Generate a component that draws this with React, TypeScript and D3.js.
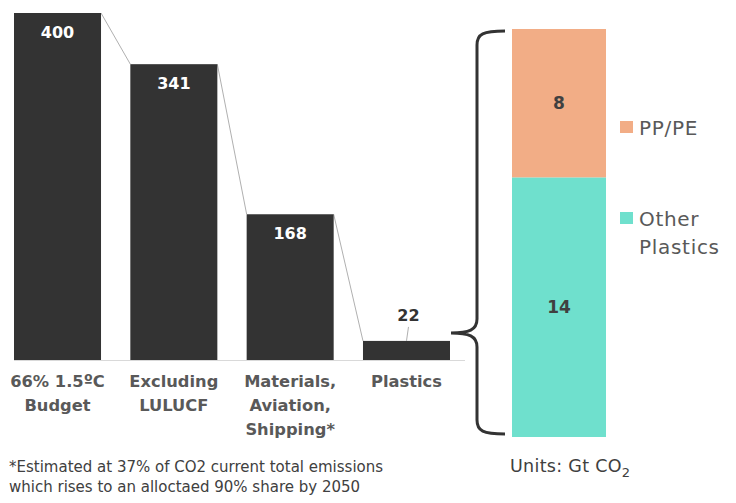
import React from "react";
import * as d3 from "d3";

const categories = ["66% 1.5ºC|Budget", "Excluding|LULUCF", "Materials,|Aviation,|Shipping*", "Plastics"];
const values = [400, 341, 168, 22];
const stackKeys = ["Other Plastics", "PP/PE"];
const stackValues = [{ "Other Plastics": 14, "PP/PE": 8 }];
const legendLabels = ["PP/PE", "Other|Plastics"];
const footnote = ["*Estimated at 37% of CO2 current total emissions", "which rises to an alloctaed 90% share by 2050"];

const FONT = "'DejaVu Sans', sans-serif";

export default function App() {
  const W = 736, H = 503;
  const x = d3.scaleBand<string>().domain(categories).range([14, 450]).paddingInner(0.252).paddingOuter(0);
  const y = d3.scaleLinear().domain([0, 400]).range([360, 13]);
  const stackColors: Record<string, string> = { "Other Plastics": "#6FE0CD", "PP/PE": "#F2AD86" };
  const series = d3.stack<any>().keys(stackKeys)(stackValues as any);
  const y2 = d3.scaleLinear().domain([0, 22]).range([437, 29]);
  const bx0 = 512, bx1 = 606;

  const bw = x.bandwidth();
  const connectors = values.slice(0, -1).map((v, i) => ({
    x1: (x(categories[i]) as number) + bw,
    y1: y(v),
    x2: x(categories[i + 1]) as number,
    y2: y(values[i + 1]),
  }));

  const top = y2(22) + 2, bot = y2(0) - 3;
  const tipY = y(values[3]) - 8;
  const vx = 477, rx = 505, tx = 451;
  const brace = `M ${rx} ${top} C ${vx + 6} ${top} ${vx} ${top + 3} ${vx} ${top + 14}
    L ${vx} ${tipY - 14} C ${vx} ${tipY - 3} ${vx - 8} ${tipY} ${tx} ${tipY}
    C ${vx - 8} ${tipY} ${vx} ${tipY + 3} ${vx} ${tipY + 14}
    L ${vx} ${bot - 14} C ${vx} ${bot - 3} ${vx + 6} ${bot} ${rx} ${bot}`;

  return (
    <svg width={W} height={H} style={{ position: "absolute", left: 0, top: 0, background: "#fff" }} fontFamily={FONT}>
      <line x1={14} x2={465} y1={360.5} y2={360.5} stroke="#d9d9d9" strokeWidth={1} />
      {connectors.map((c, i) => (
        <line key={i} x1={c.x1} y1={c.y1} x2={c.x2} y2={c.y2} stroke="#b0b0b0" strokeWidth={1} />
      ))}
      {categories.map((c, i) => {
        const bx = x(c) as number;
        return (
          <g key={c}>
            <rect x={bx} y={y(values[i])} width={bw} height={y(0) - y(values[i])} fill="#333333" />
            {i < 3 ? (
              <text x={bx + bw / 2} y={y(values[i]) + 25} textAnchor="middle" fill="#ffffff" fontWeight="bold" fontSize={16}>
                {values[i]}
              </text>
            ) : (
              <g>
                <line x1={bx + bw / 2 + 2} y1={y(values[i]) - 14} x2={bx + bw / 2} y2={y(values[i])} stroke="#b0b0b0" />
                <text x={bx + bw / 2 + 2} y={y(values[i]) - 20} textAnchor="middle" fill="#333" fontWeight="bold" fontSize={16}>
                  {values[i]}
                </text>
              </g>
            )}
            {c.split("|").map((line, j) => (
              <text key={j} x={bx + bw / 2} y={387 + j * 24} textAnchor="middle" fill="#595959" fontWeight="bold" fontSize={16.3}>
                {line}
              </text>
            ))}
          </g>
        );
      })}
      {series.map((s) => (
        <g key={s.key}>
          <rect x={bx0} y={y2(s[0][1])} width={bx1 - bx0} height={y2(s[0][0]) - y2(s[0][1])} fill={stackColors[s.key]} />
          <text x={(bx0 + bx1) / 2} y={(y2(s[0][0]) + y2(s[0][1])) / 2 + 6} textAnchor="middle" fill="#404040" fontWeight="bold" fontSize={17}>
            {s[0][1] - s[0][0]}
          </text>
        </g>
      ))}
      <path d={brace} fill="none" stroke="#333" strokeWidth={3} />
      {legendLabels.map((l, i) => {
        const key = i === 0 ? "PP/PE" : "Other Plastics";
        const ly = i === 0 ? 121 : 212;
        return (
          <g key={l}>
            <rect x={620} y={ly} width={13} height={12} fill={stackColors[key]} />
            {l.split("|").map((t, j) => (
              <text key={j} x={639} y={ly + 14 + j * 28} fill="#595959" fontSize={20} letterSpacing={0.7}>
                {t}
              </text>
            ))}
          </g>
        );
      })}
      <text x={510} y={472} fill="#404040" fontSize={17.5} letterSpacing={0.3}>
        Units: Gt CO<tspan dy={5} fontSize={13}>2</tspan>
      </text>
      {footnote.map((f, i) => (
        <text key={i} x={9} y={472 + i * 20} fill="#404040" fontSize={15}>
          {f}
        </text>
      ))}
    </svg>
  );
}
